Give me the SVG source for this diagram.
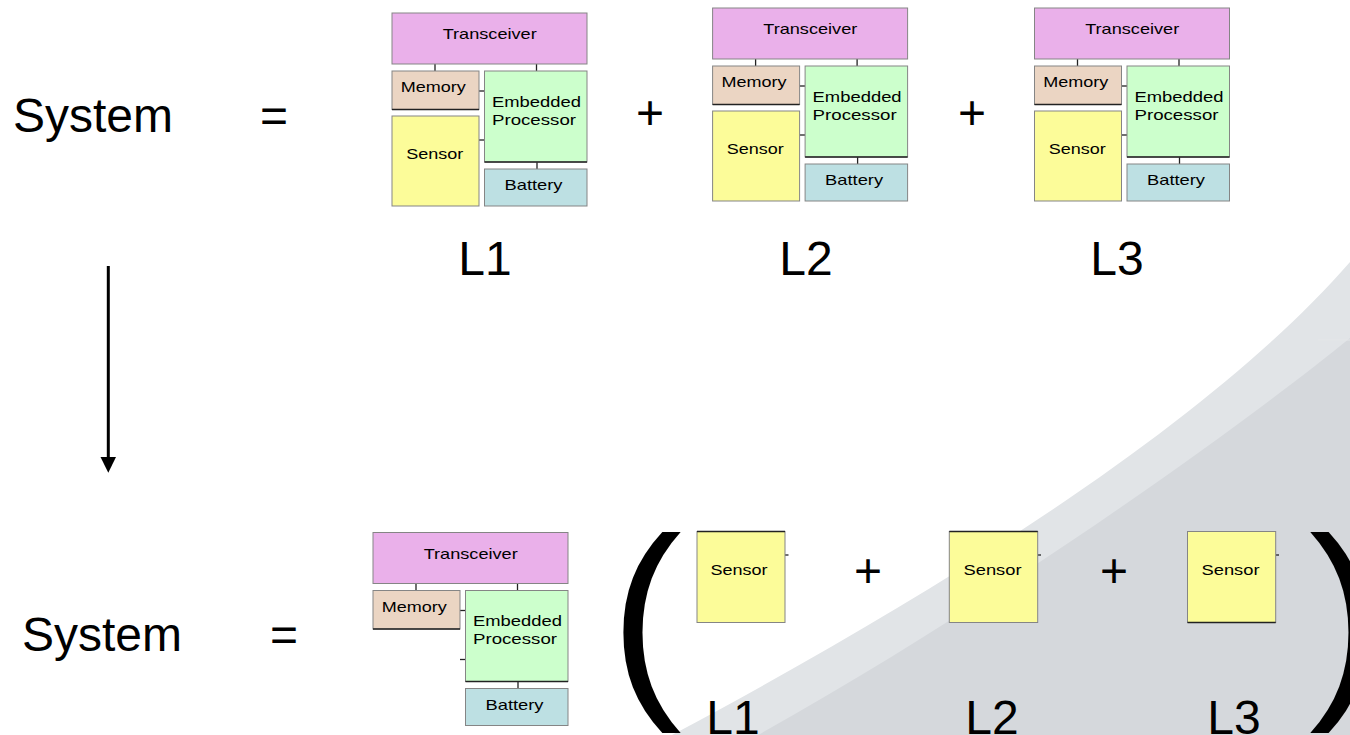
<svg xmlns="http://www.w3.org/2000/svg" width="1350" height="735" viewBox="0 0 1350 735">
<defs>
<style>
.big{font-family:"Liberation Sans",Arial,sans-serif;font-size:48px;fill:#000}
.lbl{font-family:"Liberation Sans",Arial,sans-serif;font-size:15px;fill:#000}
.mid{text-anchor:middle}
.box{stroke:#858585;stroke-width:1}
.trx{fill:#eab0ea}
.mem{fill:#ebd5c3}
.proc{fill:#ccffcc}
.sen{fill:#fcfc99}
.bat{fill:#bde0e3}
.con{stroke:#222;stroke-width:1.3;fill:none}
.dark{stroke:#222;stroke-width:1.5}
</style>
</defs>
<rect width="1350" height="735" fill="#fff"/>
<!-- background swoosh -->
<path d="M1350,262 C1230,400 1000,560 672,735 L1350,735 Z" fill="#e1e4e7"/>
<path d="M1350,338 C1250,420 1000,600 758,735 L1350,735 Z" fill="#d5d8dc"/>
<line x1="1318" y1="340" x2="1350" y2="340" stroke="#e4e6e8" stroke-width="1"/>

<!-- labels -->
<text class="big" x="13" y="132">System</text>
<text class="big" x="260" y="132">=</text>
<text class="big mid" x="650" y="129">+</text>
<text class="big mid" x="972" y="129">+</text>
<text class="big mid" x="485" y="275">L1</text>
<text class="big mid" x="806" y="275">L2</text>
<text class="big mid" x="1117" y="275">L3</text>

<text class="big" x="22" y="651">System</text>
<text class="big" x="270" y="651">=</text>
<text class="big mid" x="868" y="587">+</text>
<text class="big mid" x="1114" y="587">+</text>
<text class="big mid" x="733" y="734">L1</text>
<text class="big mid" x="992" y="734">L2</text>
<text class="big mid" x="1234" y="734">L3</text>
<text x="610" y="688" style="font-family:'Liberation Sans',Arial,sans-serif;font-size:216px">(</text>
<text x="1309" y="688" style="font-family:'Liberation Sans',Arial,sans-serif;font-size:216px">)</text>

<!-- connectors -->
<g id="connectors">
<line x1="108.3" y1="266" x2="108.3" y2="458" stroke="#000" stroke-width="3"/>
<polygon points="100.5,457 116,457 108.3,472.7" fill="#000"/>
<g id="conn-m1">
<line class="con" x1="435" y1="64" x2="435" y2="71"/>
<line class="con" x1="536.5" y1="64" x2="536.5" y2="71"/>
<line class="con" x1="479" y1="91" x2="484.5" y2="91"/>
<line class="con" x1="479" y1="140" x2="484.5" y2="140"/>
<line class="con" x1="537" y1="162" x2="537" y2="169"/>
</g>
<use href="#conn-m1" transform="translate(320.6,-5)"/>
<use href="#conn-m1" transform="translate(642.5,-5)"/>
<g transform="translate(-19,519.5)">
<line class="con" x1="435" y1="64" x2="435" y2="71"/>
<line class="con" x1="536.5" y1="64" x2="536.5" y2="71"/>
<line class="con" x1="479" y1="91" x2="484.5" y2="91"/>
<line class="con" x1="479" y1="140" x2="484.5" y2="140"/>
<line class="con" x1="537" y1="162" x2="537" y2="169"/>
</g>
<line class="con" x1="785" y1="555" x2="788.5" y2="555"/>
<line class="con" x1="1037.7" y1="555" x2="1041" y2="555"/>
<line class="con" x1="1275.7" y1="555" x2="1279" y2="555"/>
</g>

<!-- module L1 -->
<g id="module-L1">
<g id="l1-transceiver"><rect class="box trx" x="392" y="13" width="195" height="51"/><text class="lbl mid" x="489.7" y="39" textLength="94" lengthAdjust="spacingAndGlyphs">Transceiver</text></g>
<g id="l1-memory"><rect class="box mem" x="392" y="71" width="87" height="38.5"/><line class="dark" x1="392" y1="109.5" x2="479" y2="109.5"/><text class="lbl mid" x="433.3" y="92.3" textLength="65" lengthAdjust="spacingAndGlyphs">Memory</text></g>
<g id="l1-processor"><rect class="box proc" x="484.5" y="71" width="102.5" height="91"/><line class="dark" x1="484.5" y1="162" x2="587" y2="162"/><text class="lbl" x="492" y="106.5" textLength="89" lengthAdjust="spacingAndGlyphs">Embedded</text><text class="lbl" x="492" y="124.5" textLength="84" lengthAdjust="spacingAndGlyphs">Processor</text></g>
<g id="l1-sensor"><rect class="box sen" x="392" y="116" width="87" height="90"/><text class="lbl mid" x="434.7" y="159.3" textLength="57" lengthAdjust="spacingAndGlyphs">Sensor</text></g>
<g id="l1-battery"><rect class="box bat" x="484.5" y="169" width="102.5" height="37"/><text class="lbl mid" x="533.5" y="190" textLength="58" lengthAdjust="spacingAndGlyphs">Battery</text></g>
</g>

<!-- module L2 -->
<g id="module-L2" transform="translate(320.6,-5)">
<g id="l2-transceiver"><rect class="box trx" x="392" y="13" width="195" height="51"/><text class="lbl mid" x="489.7" y="39" textLength="94" lengthAdjust="spacingAndGlyphs">Transceiver</text></g>
<g id="l2-memory"><rect class="box mem" x="392" y="71" width="87" height="38.5"/><line class="dark" x1="392" y1="109.5" x2="479" y2="109.5"/><text class="lbl mid" x="433.3" y="92.3" textLength="65" lengthAdjust="spacingAndGlyphs">Memory</text></g>
<g id="l2-processor"><rect class="box proc" x="484.5" y="71" width="102.5" height="91"/><line class="dark" x1="484.5" y1="162" x2="587" y2="162"/><text class="lbl" x="492" y="106.5" textLength="89" lengthAdjust="spacingAndGlyphs">Embedded</text><text class="lbl" x="492" y="124.5" textLength="84" lengthAdjust="spacingAndGlyphs">Processor</text></g>
<g id="l2-sensor"><rect class="box sen" x="392" y="116" width="87" height="90"/><text class="lbl mid" x="434.7" y="159.3" textLength="57" lengthAdjust="spacingAndGlyphs">Sensor</text></g>
<g id="l2-battery"><rect class="box bat" x="484.5" y="169" width="102.5" height="37"/><text class="lbl mid" x="533.5" y="190" textLength="58" lengthAdjust="spacingAndGlyphs">Battery</text></g>
</g>

<!-- module L3 -->
<g id="module-L3" transform="translate(642.5,-5)">
<g id="l3-transceiver"><rect class="box trx" x="392" y="13" width="195" height="51"/><text class="lbl mid" x="489.7" y="39" textLength="94" lengthAdjust="spacingAndGlyphs">Transceiver</text></g>
<g id="l3-memory"><rect class="box mem" x="392" y="71" width="87" height="38.5"/><line class="dark" x1="392" y1="109.5" x2="479" y2="109.5"/><text class="lbl mid" x="433.3" y="92.3" textLength="65" lengthAdjust="spacingAndGlyphs">Memory</text></g>
<g id="l3-processor"><rect class="box proc" x="484.5" y="71" width="102.5" height="91"/><line class="dark" x1="484.5" y1="162" x2="587" y2="162"/><text class="lbl" x="492" y="106.5" textLength="89" lengthAdjust="spacingAndGlyphs">Embedded</text><text class="lbl" x="492" y="124.5" textLength="84" lengthAdjust="spacingAndGlyphs">Processor</text></g>
<g id="l3-sensor"><rect class="box sen" x="392" y="116" width="87" height="90"/><text class="lbl mid" x="434.7" y="159.3" textLength="57" lengthAdjust="spacingAndGlyphs">Sensor</text></g>
<g id="l3-battery"><rect class="box bat" x="484.5" y="169" width="102.5" height="37"/><text class="lbl mid" x="533.5" y="190" textLength="58" lengthAdjust="spacingAndGlyphs">Battery</text></g>
</g>

<!-- shared module (bottom) -->
<g id="module-shared" transform="translate(-19,519.5)">
<g id="s-transceiver"><rect class="box trx" x="392" y="13" width="195" height="51"/><text class="lbl mid" x="489.7" y="39" textLength="94" lengthAdjust="spacingAndGlyphs">Transceiver</text></g>
<g id="s-memory"><rect class="box mem" x="392" y="71" width="87" height="38.5"/><line class="dark" x1="392" y1="109.5" x2="479" y2="109.5"/><text class="lbl mid" x="433.3" y="92.3" textLength="65" lengthAdjust="spacingAndGlyphs">Memory</text></g>
<g id="s-processor"><rect class="box proc" x="484.5" y="71" width="102.5" height="91"/><line class="dark" x1="484.5" y1="162" x2="587" y2="162"/><text class="lbl" x="492" y="106.5" textLength="89" lengthAdjust="spacingAndGlyphs">Embedded</text><text class="lbl" x="492" y="124.5" textLength="84" lengthAdjust="spacingAndGlyphs">Processor</text></g>
<g id="s-battery"><rect class="box bat" x="484.5" y="169" width="102.5" height="37"/><text class="lbl mid" x="533.5" y="190" textLength="58" lengthAdjust="spacingAndGlyphs">Battery</text></g>
</g>

<!-- individual sensors -->
<g id="sensor-L1"><rect class="box sen" x="697" y="531.5" width="88" height="91"/><line class="dark" x1="697" y1="531.5" x2="785" y2="531.5"/><text class="lbl mid" x="739" y="575" textLength="57" lengthAdjust="spacingAndGlyphs">Sensor</text></g>
<g id="sensor-L2"><rect class="box sen" x="949.3" y="531.5" width="88.4" height="91"/><line class="dark" x1="949.3" y1="531.5" x2="1037.7" y2="531.5"/><text class="lbl mid" x="992.5" y="575" textLength="58" lengthAdjust="spacingAndGlyphs">Sensor</text></g>
<g id="sensor-L3"><rect class="box sen" x="1187.5" y="531.5" width="88.2" height="91"/><line class="dark" x1="1187.5" y1="622.5" x2="1275.7" y2="622.5"/><text class="lbl mid" x="1230.5" y="575" textLength="58" lengthAdjust="spacingAndGlyphs">Sensor</text></g>
</svg>
